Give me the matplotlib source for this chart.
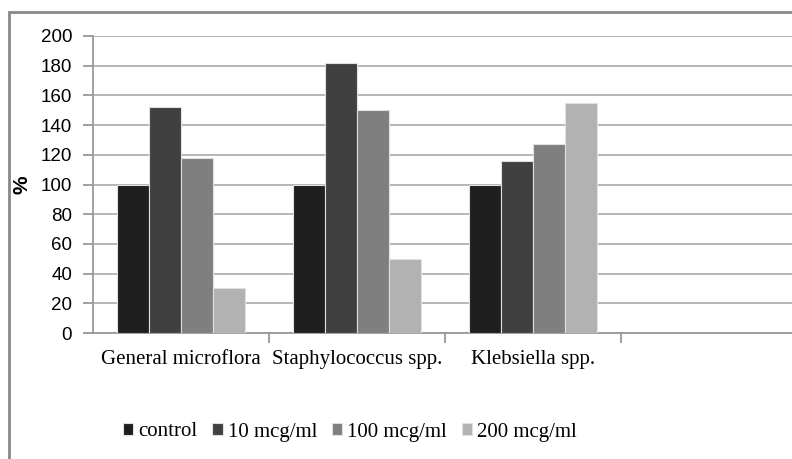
import numpy as np
import matplotlib
matplotlib.use("Agg")
import matplotlib.pyplot as plt
from matplotlib.patches import Rectangle

# data
categories = ["General microflora", "Staphylococcus spp.", "Klebsiella spp.", ""]
series_names = ["control", "10 mcg/ml", "100 mcg/ml", "200 mcg/ml"]
control = [100, 100, 100]
mcg10 = [152, 182, 116]
mcg100 = [118, 150, 127]
mcg200 = [30, 50, 155]
colors = ["#1f1f1f", "#404040", "#7f7f7f", "#b2b2b2"]

W, H = 792, 459
fig = plt.figure(figsize=(W / 100, H / 100), dpi=100)

# outer chart border (cut off at right/bottom like the reference)
fig.patches.append(Rectangle((8.5 / W, -0.1), 1.2, 1 - 12.5 / H + 0.1,
                             transform=fig.transFigure, fill=False,
                             edgecolor="#888888", linewidth=2))

ax = fig.add_axes([93 / W, 1 - 333 / H, 704 / W, (333 - 36) / H])

x = np.arange(3)
bw = 1 / 5.5
for i, vals in enumerate([control, mcg10, mcg100, mcg200]):
    ax.bar(x + (i - 1.5) * bw, vals, bw, color=colors[i],
           edgecolor="#e0e0e0", linewidth=0.8, label=series_names[i], zorder=3)

ax.set_xlim(-0.5, 3.5)
ax.set_ylim(0, 200)
ax.set_yticks(range(0, 201, 20))
ax.yaxis.grid(True, color="#b0b0b0", linewidth=1.3, zorder=0)
for s in ["top", "right"]:
    ax.spines[s].set_visible(False)
for s in ["left", "bottom"]:
    ax.spines[s].set_color("#999999")
    ax.spines[s].set_linewidth(1.3)

ax.tick_params(axis="y", length=7, color="#999999", width=1.3, pad=8,
               labelsize=13.5)
for t in ax.get_yticklabels():
    t.set_fontfamily("Liberation Sans")

ax.set_xticks([0.5, 1.5, 2.5], minor=False)
ax.set_xticklabels([])
ax.tick_params(axis="x", length=7, color="#999999", width=1.3)
ax.set_xticks(np.arange(4), minor=True)
ax.set_xticklabels(categories, minor=True, fontfamily="Liberation Serif",
                   fontsize=15)
ax.tick_params(axis="x", which="minor", length=0, pad=12)

fig.text(22 / W, 1 - 185 / H, "%", rotation=90, ha="center", va="center",
         fontsize=15, fontweight="bold", fontfamily="Liberation Sans")

fig.legend(loc="center", bbox_to_anchor=(350 / W, 1 - 432 / H), ncol=4,
           frameon=False, prop={"family": "Liberation Serif", "size": 15},
           handlelength=0.5, handleheight=0.5, handletextpad=0.25,
           columnspacing=0.7)

fig.savefig("out.png", dpi=100)
